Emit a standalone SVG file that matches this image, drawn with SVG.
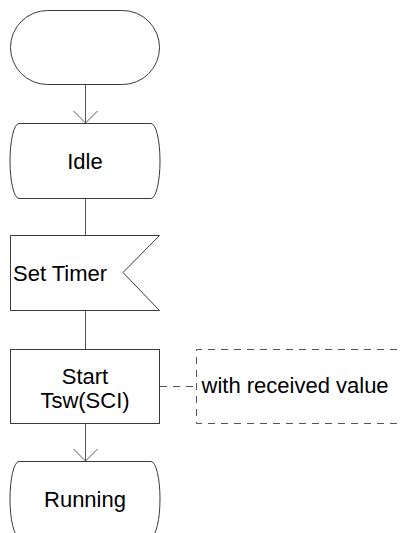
<svg xmlns="http://www.w3.org/2000/svg" width="400" height="533" viewBox="0 0 400 533">
  <style>
    .shape { fill: #ffffff; stroke: #3a3a3a; stroke-width: 1; }
    .line { fill: none; stroke: #555555; stroke-width: 1; }
    .dash { fill: none; stroke: #555555; stroke-width: 1; stroke-dasharray: 7 6; }
    .label { font-family: "Liberation Sans", Arial, sans-serif; font-size: 22px; fill: #000000; }
    .c { text-anchor: middle; }
  </style>
  <defs>
    <marker id="open" markerUnits="userSpaceOnUse" viewBox="-13 -13 14 26" refX="0" refY="0" markerWidth="14" markerHeight="26" orient="auto" overflow="visible">
      <path d="M-12,-12 L0,0 L-12,12" fill="none" stroke="#555555" stroke-width="1"/>
    </marker>
  </defs>
  <rect width="400" height="533" fill="#ffffff"/>

  <g id="connectors">
    <line class="line" x1="85.5" y1="85" x2="85.5" y2="123" marker-end="url(#open)"/>
    <line class="line" x1="85.5" y1="198.5" x2="85.5" y2="235.5"/>
    <line class="line" x1="85.5" y1="310.5" x2="85.5" y2="349.5"/>
    <line class="line" x1="85.5" y1="423.5" x2="85.5" y2="461" marker-end="url(#open)"/>
    <line class="dash" x1="160" y1="386.5" x2="196.5" y2="386.5"/>
  </g>

  <g id="start">
    <rect class="shape" x="10.5" y="10.5" width="149" height="74" rx="37" ry="37"/>
  </g>

  <g id="idle">
    <path class="shape" d="M19,123.5 H151 A9,37.5 0 0 1 151,198.5 H19 A9,37.5 0 0 1 19,123.5 Z"/>
    <text class="label c" x="85" y="168.5">Idle</text>
  </g>

  <g id="set-timer">
    <path class="shape" d="M10.5,235.5 H159.5 L123,272.5 L159.5,310.5 H10.5 Z"/>
    <text class="label" x="13" y="280.5">Set Timer</text>
  </g>

  <g id="start-tsw">
    <rect class="shape" x="10.5" y="349.5" width="149" height="74"/>
    <text class="label c" x="85" y="384">Start</text>
    <text class="label c" x="85" y="408">Tsw(SCI)</text>
  </g>

  <g id="comment">
    <path class="dash" d="M410,349.5 H196.5 V423.5 H410"/>
    <text class="label" x="201.5" y="393">with received value</text>
  </g>

  <g id="running">
    <path class="shape" d="M19,461.5 H151 A9,37.5 0 0 1 151,536.5 H19 A9,37.5 0 0 1 19,461.5 Z"/>
    <text class="label c" x="85" y="507">Running</text>
  </g>
</svg>
